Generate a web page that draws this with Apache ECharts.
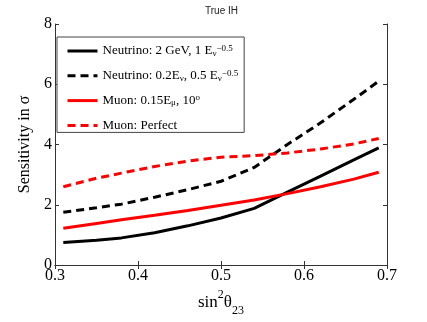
<!DOCTYPE html>
<html>
<head>
<meta charset="utf-8">
<script src="https://cdn.jsdelivr.net/npm/echarts@6/dist/echarts.min.js"></script>
<style>
    html, body { margin: 0; padding: 0; background: #fff; }
    #chart { width: 427px; height: 322px; }
</style>
</head>
<body>
<div id="chart"></div>
<script>
// sin^2 theta_23 sample points
const xVals = [0.31, 0.35, 0.38, 0.42, 0.46, 0.50, 0.54, 0.58, 0.62, 0.66, 0.69];

// sensitivity in sigma
const nuSolid = [0.75, 0.82, 0.90, 1.07, 1.30, 1.56, 1.88, 2.42, 2.95, 3.49, 3.89];
const nuDashed = [1.75, 1.90, 2.02, 2.25, 2.50, 2.78, 3.24, 4.00, 4.72, 5.50, 6.10];
const muSolid = [1.22, 1.38, 1.50, 1.65, 1.81, 1.98, 2.16, 2.37, 2.60, 2.85, 3.08];
const muDashed = [2.60, 2.88, 3.05, 3.27, 3.45, 3.58, 3.63, 3.72, 3.85, 4.02, 4.20];

const names = [
    "Neutrino: 2 GeV, 1 E",
    "Neutrino: 0.2E, 0.5 E",
    "Muon: 0.15E, 10",
    "Muon: Perfect",
];
// legend labels with sub/superscripts
const legendLabels = {
    "Neutrino: 2 GeV, 1 E": "Neutrino: 2 GeV, 1 E{sub|ν}{sup|−0.5}",
    "Neutrino: 0.2E, 0.5 E": "Neutrino: 0.2E{sub|ν}, 0.5 E{sub|ν}{sup|−0.5}",
    "Muon: 0.15E, 10": "Muon: 0.15E{sub|μ}, 10{sup|o}",
    "Muon: Perfect": "Muon: Perfect",
};

const serif = "'Liberation Serif', 'DejaVu Serif', serif";

function pairs(ys) {
    return xVals.map((x, i) => [x, ys[i]]);
}

function makeLine(name, ys, color, dashed) {
    return {
        name: name,
        type: "line",
        data: pairs(ys),
        symbol: "none",
        smooth: false,
        itemStyle: { color: color },
        lineStyle: { color: color, width: 3, type: dashed ? [8, 5] : "solid" },
    };
}

const chart = echarts.init(document.getElementById("chart"));

const boxAxis = {
    axisLine: { show: true, lineStyle: { color: "#333", width: 1 } },
    axisTick: { show: true, inside: true, length: 4, lineStyle: { color: "#333" } },
    splitLine: { show: false },
};

chart.setOption({
    animation: false,
    backgroundColor: "#fff",
    title: {
        text: "True IH",
        left: 200,
        top: 1,
        textStyle: { fontFamily: "'Liberation Sans', Arial, sans-serif", fontSize: 10, fontWeight: "normal", color: "#222" },
    },
    grid: { left: 55, right: 40, top: 24, bottom: 56 },
    legend: {
        orient: "vertical",
        left: 57,
        top: 37,
        padding: [7, 6, 0, 9],
        itemWidth: 30,
        itemHeight: 14,
        itemGap: 10.8,
        backgroundColor: "#fff",
        borderColor: "#444",
        borderWidth: 1,
        itemStyle: { opacity: 0 },
        lineStyle: { width: 3 },
        data: names,
        formatter: (n) => legendLabels[n],
        textStyle: {
            fontFamily: serif,
            fontSize: 13,
            color: "#000",
            lineHeight: 14,
            rich: {
                sub: { fontFamily: serif, fontSize: 9, lineHeight: 8, verticalAlign: "bottom", color: "#000" },
                sup: { fontFamily: serif, fontSize: 9, lineHeight: 8, verticalAlign: "top", color: "#000" },
            },
        },
    },
    xAxis: [
        {
            ...boxAxis,
            type: "value",
            min: 0.3,
            max: 0.7,
            interval: 0.1,
            name: "sin{sup|2}θ{sub|23}",
            nameLocation: "middle",
            nameGap: 24,
            nameTextStyle: {
                fontFamily: serif,
                fontSize: 17,
                color: "#000",
                lineHeight: 28,
                rich: {
                    sup: { fontFamily: serif, fontSize: 12, lineHeight: 12, verticalAlign: "top", color: "#000" },
                    sub: { fontFamily: serif, fontSize: 12, lineHeight: 12, verticalAlign: "bottom", color: "#000" },
                },
            },
            axisLabel: { fontFamily: serif, fontSize: 16, color: "#000", margin: 3 },
        },
        {
            ...boxAxis,
            type: "value",
            position: "top",
            min: 0.3,
            max: 0.7,
            interval: 0.1,
            axisLabel: { show: false },
        },
    ],
    yAxis: [
        {
            ...boxAxis,
            type: "value",
            min: 0,
            max: 8,
            interval: 2,
            name: "Sensitivity in σ",
            nameLocation: "middle",
            nameGap: 19,
            nameTextStyle: { fontFamily: serif, fontSize: 16, color: "#000" },
            axisLabel: { fontFamily: serif, fontSize: 16, color: "#000", margin: 3 },
        },
        {
            ...boxAxis,
            type: "value",
            position: "right",
            min: 0,
            max: 8,
            interval: 2,
            axisLabel: { show: false },
        },
    ],
    series: [
        makeLine(names[0], nuSolid, "#000", false),
        makeLine(names[1], nuDashed, "#000", true),
        makeLine(names[2], muSolid, "#ff0000", false),
        makeLine(names[3], muDashed, "#ff0000", true),
    ],
});
</script>
</body>
</html>
